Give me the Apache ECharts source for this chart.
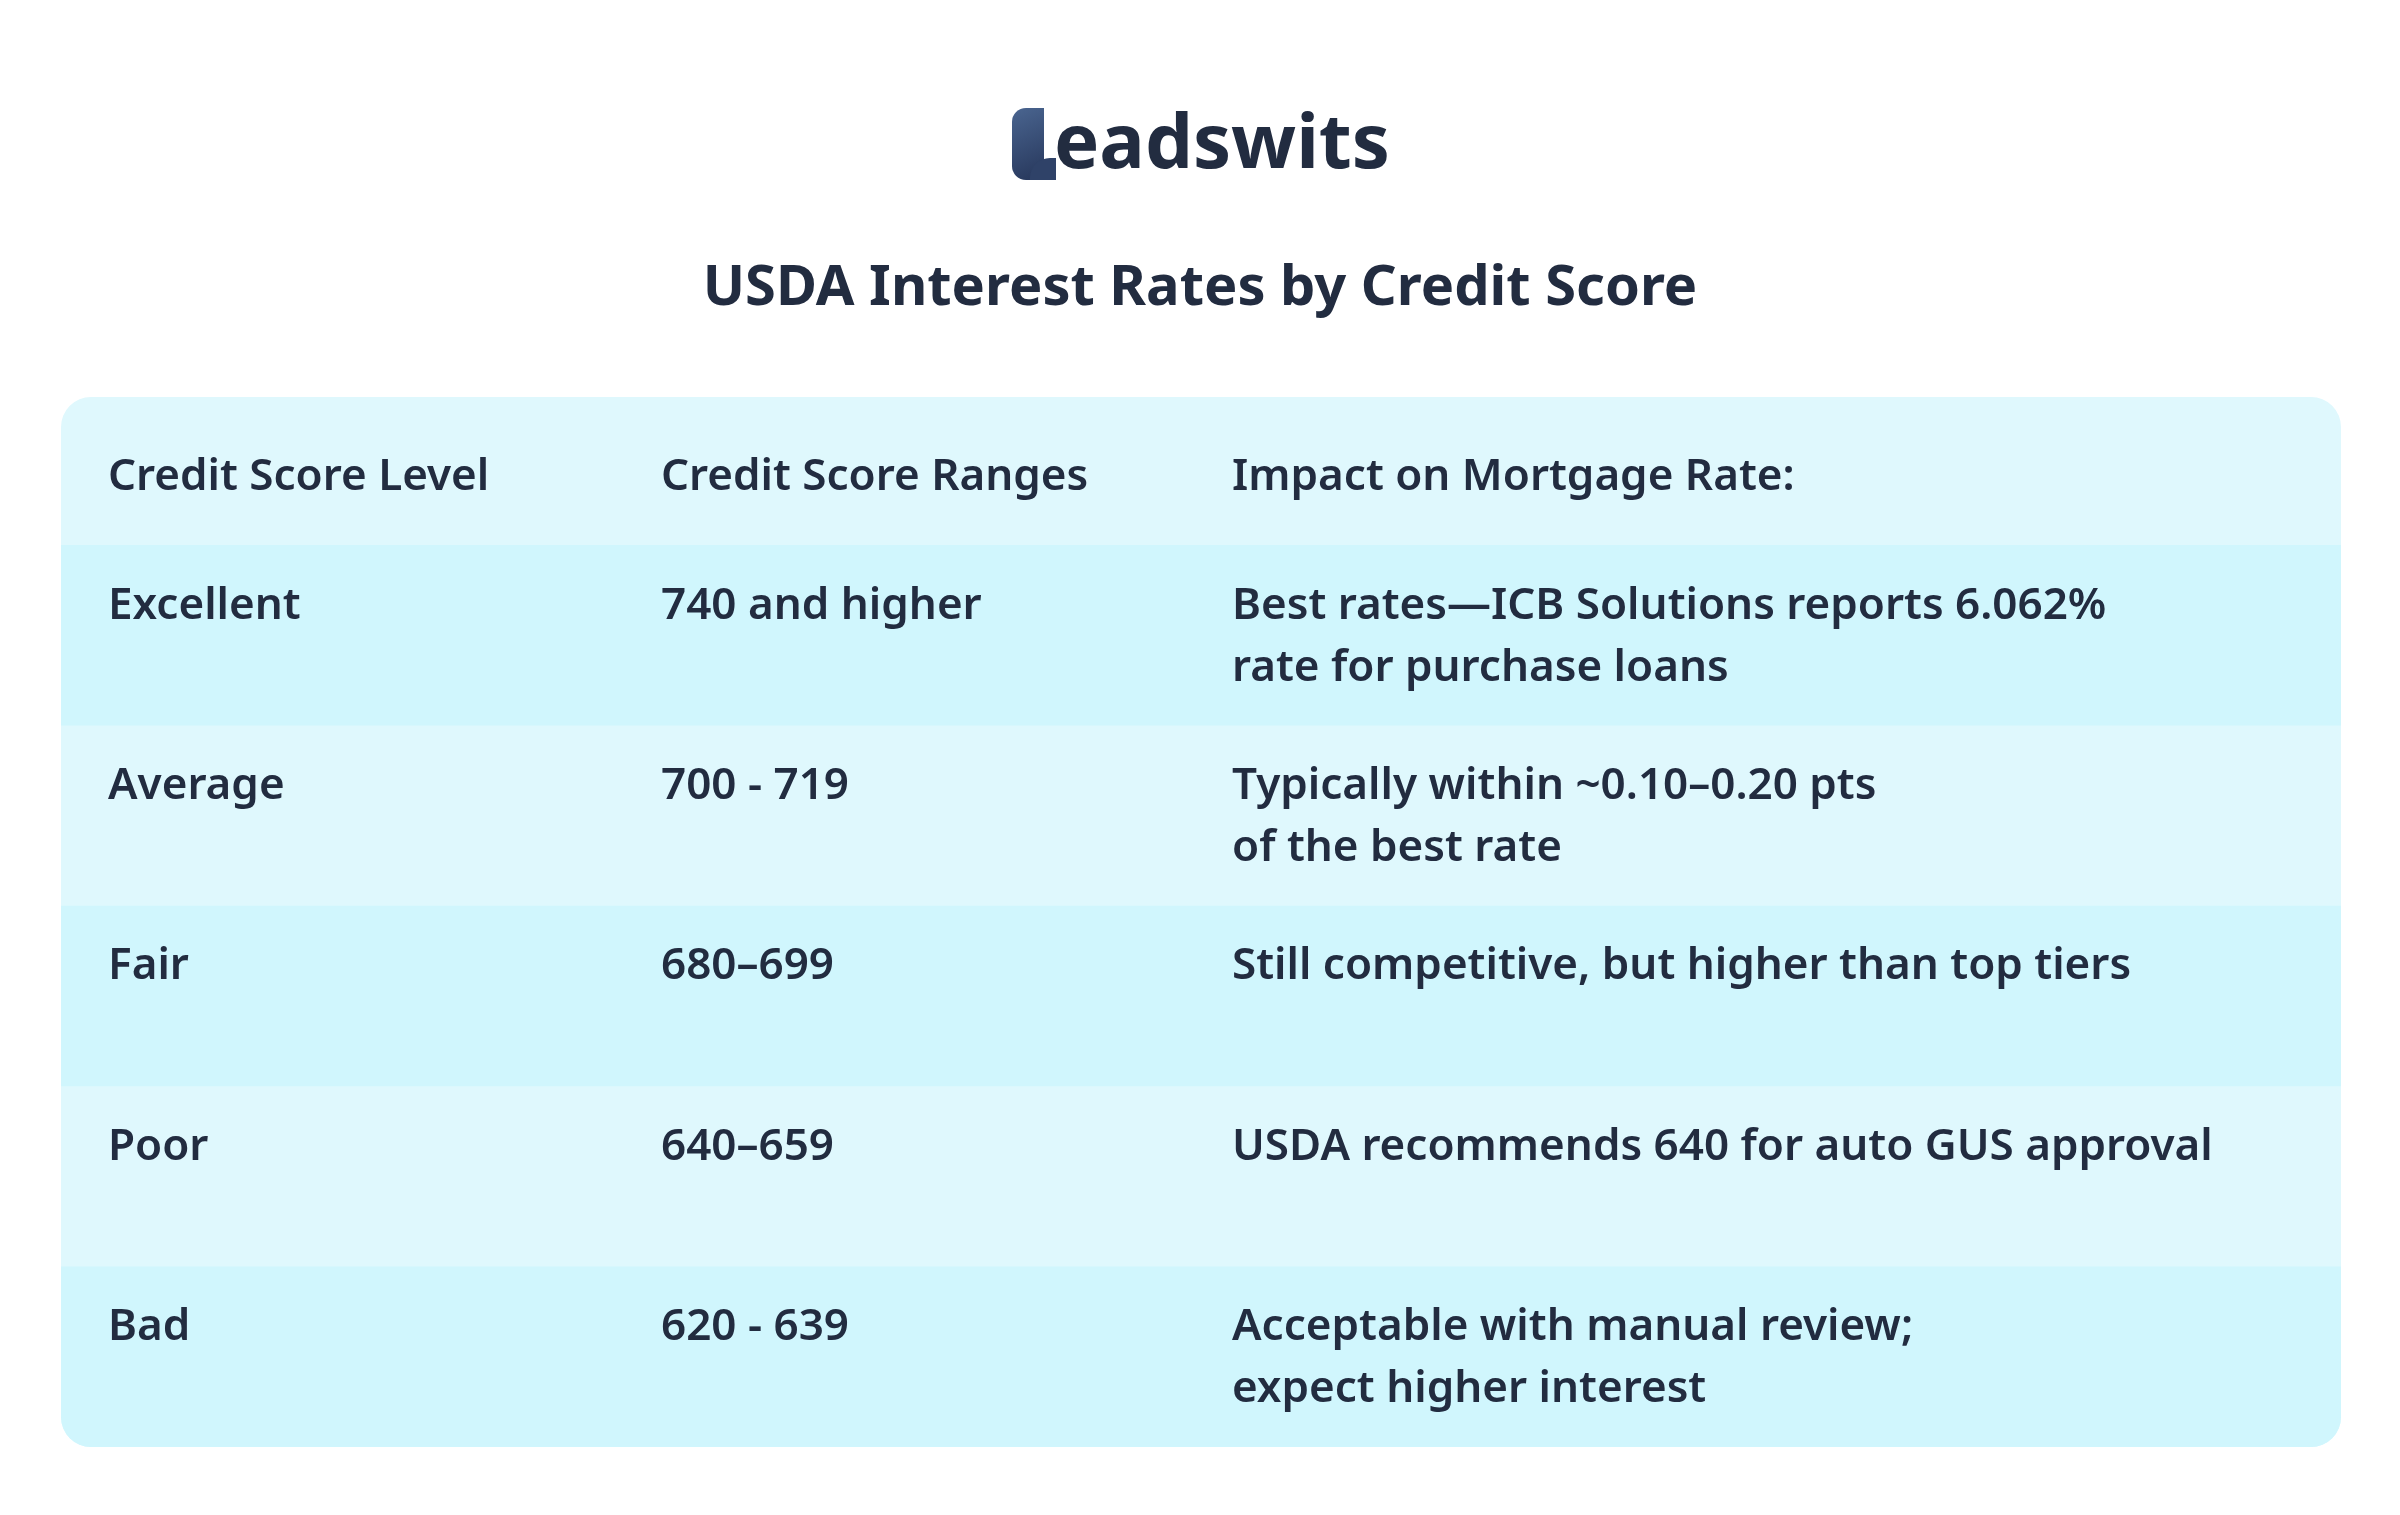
<!DOCTYPE html>
<html><head><meta charset="utf-8">
<script src="https://cdn.jsdelivr.net/npm/echarts@6/dist/echarts.min.js"></script>
<style>html,body{margin:0;padding:0;background:#fff}#c{width:2400px;height:1515px}</style>
</head><body><div id="c"></div>
<script>
const title = 'USDA Interest Rates by Credit Score';
const headers = ['Credit Score Level', 'Credit Score Ranges', 'Impact on Mortgage Rate:'];
const levels = ['Excellent', 'Average', 'Fair', 'Poor', 'Bad'];
const ranges = ['740 and higher', '700 - 719', '680–699', '640–659', '620 - 639'];
const impacts = [
  'Best rates—ICB Solutions reports 6.062%\nrate for purchase loans',
  'Typically within ~0.10–0.20 pts\nof the best rate',
  'Still competitive, but higher than top tiers',
  'USDA recommends 640 for auto GUS approval',
  'Acceptable with manual review;\nexpect higher interest'
];

const chart = echarts.init(document.getElementById('c'));
const TX = 61, TW = 2280, TY = 397, HH = 148, RH = 180.4;
const colX = [108, 661, 1232];
const FONT = '"Noto Sans"';
const txtCol = '#222c40';
const els = [];
els.push({type:'rect', shape:{x:TX,y:TY,width:TW,height:HH+RH*5,r:30}, style:{fill:'#dff8fd'}});
for (let i=0;i<levels.length;i++){
  const y = TY+HH+RH*i;
  if (i%2===0){
    const last = i===levels.length-1;
    els.push({type:'rect', shape:{x:TX,y:y,width:TW,height:RH,r:last?[0,0,30,30]:0}, style:{fill:'#d0f6fd'}});
  }
  const cells=[levels[i],ranges[i],impacts[i]];
  cells.forEach((t,j)=>els.push({type:'text', x:colX[j], y:y+30, style:{text:t, fill:txtCol, font:'600 44px '+FONT, lineHeight:62}}));
}
headers.forEach((t,j)=>els.push({type:'text', x:colX[j], y:TY+58, style:{text:t, fill:txtCol, font:'600 44px '+FONT}}));
els.push({type:'text', x:1200, y:289, style:{text:title, fill:txtCol, font:'bold 56px '+FONT, align:'center', verticalAlign:'middle'}});
// logo
els.push({type:'rect', shape:{x:1012,y:108,width:32,height:72,r:[14,0,0,14]}, style:{fill:new echarts.graphic.LinearGradient(0,0,1,1,[{offset:0,color:'#4a6590'},{offset:1,color:'#26365a'}])}});
els.push({type:'rect', shape:{x:1030,y:158,width:26,height:22,r:[20,0,0,0]}, style:{fill:'#2f4268'}});
els.push({type:'text', x:1054, y:146, style:{text:'eadswits', fill:txtCol, font:'bold 76px '+FONT, verticalAlign:'middle'}});
chart.setOption({graphic:{elements:els}});
</script></body></html>
